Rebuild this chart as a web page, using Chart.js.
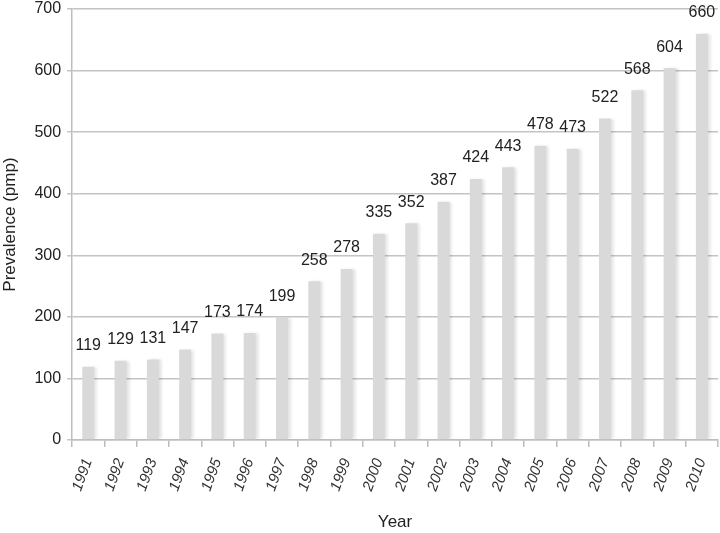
<!DOCTYPE html>
<html>
<head>
<meta charset="utf-8">
<script src="https://cdn.jsdelivr.net/npm/chart.js@4"></script>
<style>
  html, body { margin: 0; padding: 0; background: #fff; }
  #wrap { width: 720px; height: 533px; }
</style>
</head>
<body>
<div id="wrap"><canvas id="prevChart"></canvas></div>
<script>
// data
const years = ["1991", "1992", "1993", "1994", "1995", "1996", "1997", "1998", "1999", "2000",
    "2001", "2002", "2003", "2004", "2005", "2006", "2007", "2008", "2009", "2010"];
const prevalence = [119, 129, 131, 147, 173, 174, 199, 258, 278, 335,
    352, 387, 424, 443, 478, 473, 522, 568, 604, 660];

const sans = "'Liberation Sans', Arial, sans-serif";

// soft shadow on the right side of each bar
const barShadow = {
    id: "barShadow",
    beforeDatasetsDraw(chart) {
        const ctx = chart.ctx;
        ctx.save();
        ctx.shadowColor = "rgba(0,0,0,0.12)";
        ctx.shadowOffsetX = 3;
        ctx.shadowOffsetY = 0;
        ctx.shadowBlur = 3;
    },
    afterDatasetsDraw(chart) {
        chart.ctx.restore();
    }
};

// value labels above the bars
const valueLabels = {
    id: "valueLabels",
    afterDraw(chart) {
        const ctx = chart.ctx;
        const meta = chart.getDatasetMeta(0);
        ctx.save();
        ctx.font = "16px " + sans;
        ctx.fillStyle = "#222";
        ctx.textAlign = "center";
        ctx.textBaseline = "bottom";
        meta.data.forEach((bar, i) => {
            ctx.fillText(String(prevalence[i]), bar.x, bar.y - 13);
        });
        ctx.restore();
    }
};

new Chart(document.getElementById("prevChart"), {
    type: "bar",
    plugins: [barShadow, valueLabels],
    data: {
        labels: years,
        datasets: [{
            data: prevalence,
            backgroundColor: "#d9d9d9",
            borderWidth: 0,
            categoryPercentage: 1,
            barPercentage: 0.37
        }]
    },
    options: {
        responsive: true,
        maintainAspectRatio: false,
        animation: false,
        layout: { padding: { top: 9, right: 2, left: 0, bottom: 0 } },
        plugins: {
            legend: { display: false },
            tooltip: { enabled: false }
        },
        scales: {
            x: {
                afterFit(axis) {
                    axis.paddingLeft = 0;
                    axis.paddingRight = 0;
                },
                grid: {
                    display: true,
                    drawOnChartArea: false,
                    offset: true,
                    color: "#bdbdbd",
                    lineWidth: 1.5,
                    tickLength: 7
                },
                border: { color: "#bdbdbd", width: 1.5 },
                ticks: {
                    color: "#333",
                    font: { family: sans, size: 15, style: "italic" },
                    maxRotation: 70,
                    minRotation: 70,
                    padding: 9
                },
                title: {
                    display: true,
                    text: "Year",
                    color: "#222",
                    font: { family: sans, size: 17 },
                    padding: { top: 10, bottom: 0 }
                }
            },
            y: {
                min: 0,
                max: 700,
                afterFit(axis) {
                    axis.paddingTop = 0;
                    axis.paddingBottom = 0;
                },
                ticks: {
                    stepSize: 100,
                    color: "#222",
                    font: { family: sans, size: 16 },
                    padding: 6
                },
                grid: {
                    color: "#c4c4c4",
                    lineWidth: 1.5,
                    tickLength: 5
                },
                border: { color: "#bdbdbd", width: 1.5 },
                title: {
                    display: true,
                    text: "Prevalence (pmp)",
                    color: "#222",
                    font: { family: sans, size: 17 },
                    padding: { top: 0, bottom: 8 }
                }
            }
        }
    }
});
</script>
</body>
</html>
